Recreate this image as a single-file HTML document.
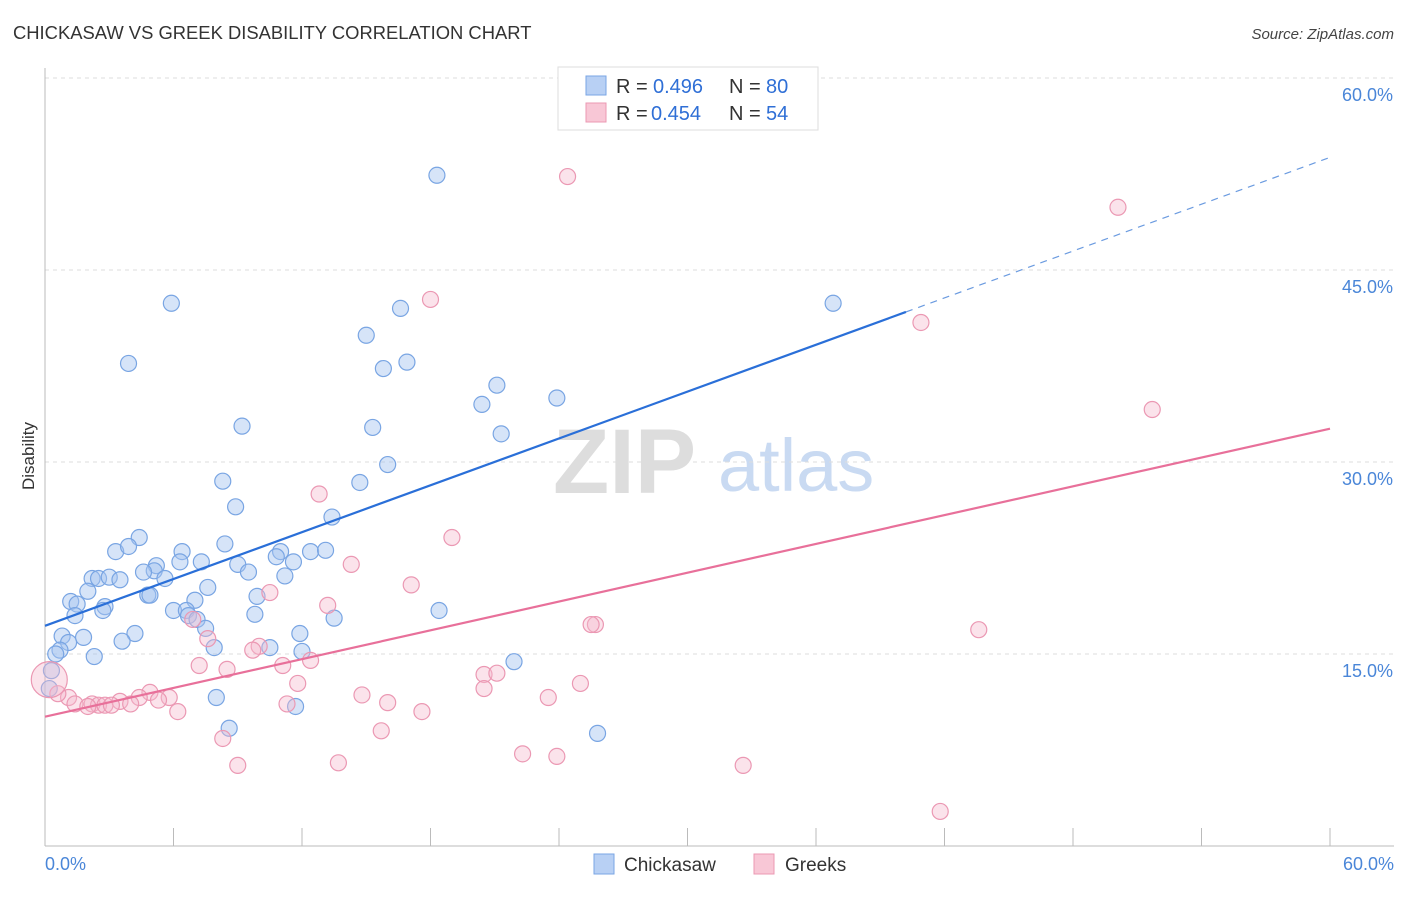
<!DOCTYPE html>
<html><head><meta charset="utf-8"><style>
body{margin:0;background:#fff;font-family:"Liberation Sans",sans-serif;}
svg text{font-family:"Liberation Sans",sans-serif;}
</style></head><body>
<svg id="chart" width="1406" height="892" viewBox="0 0 1406 892" xmlns="http://www.w3.org/2000/svg">
<text x="13" y="39" font-size="18.4" fill="#333">CHICKASAW VS GREEK DISABILITY CORRELATION CHART</text>
<text x="1394" y="39" font-size="15" fill="#444" text-anchor="end" font-style="italic">Source: ZipAtlas.com</text>
<g>
<text x="553" y="493" font-size="92" fill="#ddd" font-family="Liberation Serif" font-weight="bold">ZIP</text>
<text x="718" y="491" font-size="74" fill="#c9daf2">atlas</text>
</g>
<g id="grid"></g>
<g id="axes"></g>
<g id="pts"></g>
<g id="lines"></g>
<text transform="translate(34,456) rotate(-90)" font-size="17" fill="#333" text-anchor="middle">Disability</text>
<g>
<rect x="558" y="67" width="260" height="63" fill="#fff" stroke="#ddd"/>
<rect x="586" y="76" width="20" height="19" fill="#b8d0f4" stroke="#7aa6e4"/>
<rect x="586" y="103" width="20" height="19" fill="#f8c7d6" stroke="#eb98b3"/>
<text x="616" y="93" font-size="20" fill="#333">R =</text>
<text x="653" y="93" font-size="20" fill="#2f6fd6">0.496</text>
<text x="729" y="93" font-size="20" fill="#333">N =</text>
<text x="766" y="93" font-size="20" fill="#2f6fd6">80</text>
<text x="616" y="120" font-size="20" fill="#333">R =</text>
<text x="651" y="120" font-size="20" fill="#2f6fd6">0.454</text>
<text x="729" y="120" font-size="20" fill="#333">N =</text>
<text x="766" y="120" font-size="20" fill="#2f6fd6">54</text>
</g>
<g>
<rect x="594" y="854" width="20" height="20" fill="#b8d0f4" stroke="#7aa6e4"/>
<text x="624" y="871" font-size="19" fill="#333">Chickasaw</text>
<rect x="754" y="854" width="20" height="20" fill="#f8c7d6" stroke="#eb98b3"/>
<text x="785" y="871" font-size="19" fill="#333">Greeks</text>
</g>
</svg>
<script>
const yTicks=[15,30,45,60];
const yTickLabels=["15.0%","30.0%","45.0%","60.0%"];
const xTickLabels=["0.0%","60.0%"];
const chickasaw=[[18.3,52.4],[5.9,42.4],[36.8,42.4],[15.0,39.9],[16.6,42.0],[3.9,37.7],[16.9,37.8],[15.8,37.3],[21.1,36.0],[20.4,34.5],[23.9,35.0],[9.2,32.8],[15.3,32.7],[21.3,32.2],[16.0,29.8],[8.3,28.5],[14.7,28.4],[8.9,26.5],[13.4,25.7],[4.4,24.1],[3.3,23.0],[3.9,23.4],[8.4,23.6],[6.4,23.0],[11.0,23.0],[12.4,23.0],[13.1,23.1],[10.8,22.6],[11.6,22.2],[7.3,22.2],[6.3,22.2],[9.0,22.0],[9.5,21.4],[5.2,21.9],[5.1,21.5],[4.6,21.4],[11.2,21.1],[5.6,20.9],[2.2,20.9],[2.5,20.9],[3.0,21.0],[3.5,20.8],[2.0,19.9],[7.6,20.2],[4.8,19.6],[4.9,19.6],[9.9,19.5],[1.2,19.1],[1.5,18.9],[7.0,19.2],[2.8,18.7],[2.7,18.4],[6.0,18.4],[6.6,18.4],[9.8,18.1],[1.4,18.0],[6.7,18.0],[7.1,17.7],[13.5,17.8],[18.4,18.4],[7.5,17.0],[4.2,16.6],[0.8,16.4],[1.8,16.3],[1.1,15.9],[3.6,16.0],[11.9,16.6],[7.9,15.5],[10.5,15.5],[0.7,15.3],[0.5,15.0],[12.0,15.2],[2.3,14.8],[21.9,14.4],[0.3,13.7],[0.2,12.3],[8.0,11.6],[11.7,10.9],[8.6,9.2],[25.8,8.8]];
const greeks=[[24.4,52.3],[50.1,49.9],[18.0,42.7],[40.9,40.9],[51.7,34.1],[12.8,27.5],[19.0,24.1],[14.3,22.0],[17.1,20.4],[10.5,19.8],[13.2,18.8],[25.7,17.3],[25.5,17.3],[6.9,17.7],[7.6,16.2],[43.6,16.9],[10.0,15.6],[9.7,15.3],[12.4,14.5],[11.1,14.1],[7.2,14.1],[8.5,13.8],[20.5,13.4],[21.1,13.5],[25.0,12.7],[11.8,12.7],[20.5,12.3],[4.9,12.0],[14.8,11.8],[5.8,11.6],[4.4,11.6],[5.3,11.4],[1.1,11.6],[0.6,11.9],[1.4,11.1],[2.2,11.1],[2.5,11.0],[2.8,11.0],[3.5,11.3],[2.0,10.9],[4.0,11.1],[3.1,11.0],[23.5,11.6],[16.0,11.2],[11.3,11.1],[6.2,10.5],[17.6,10.5],[15.7,9.0],[8.3,8.4],[22.3,7.2],[23.9,7.0],[9.0,6.3],[13.7,6.5],[32.6,6.3],[41.8,2.7]];
const greeksBig=[[0.2,13.0]];
const blueTrend=[17.2,0.61,40.2];
const pinkTrend=[10.1,0.375];
const NS="http://www.w3.org/2000/svg";
const X=v=>45+v*(1285/60), Y=v=>846-v*12.8;
function mk(t,a,p){const e=document.createElementNS(NS,t);for(const k in a)e.setAttribute(k,a[k]);p.appendChild(e);return e;}
const grid=document.getElementById('grid'),axes=document.getElementById('axes'),pts=document.getElementById('pts'),lines=document.getElementById('lines');
yTicks.forEach((t,i)=>{
 const l=mk('line',{x1:45,x2:1394,y1:Y(t),y2:Y(t),stroke:'#ddd','stroke-dasharray':'4,4'},grid);
 
 
 const tx=mk('text',{x:1393,y:Y(t)+23,'font-size':18,fill:'#4a86d8','text-anchor':'end'},axes);
 tx.textContent=yTickLabels[i];
 
 
});
mk('line',{x1:45,x2:45,y1:68,y2:846,stroke:'#bbb'},axes);
mk('line',{x1:45,x2:1394,y1:846,y2:846,stroke:'#bbb'},axes);
for(let i=0;i<=10;i++){mk('line',{x1:X(i*6),x2:X(i*6),y1:828,y2:846,stroke:'#bbb'},axes);}
[[0,'start',45],[1,'end',1394]].forEach(([i,a,x])=>{const t=mk('text',{x:x,y:870,'font-size':18,fill:'#4a86d8','text-anchor':a},axes);t.textContent=xTickLabels[i];});
chickasaw.forEach(d=>{const c=mk('circle',{cx:X(d[0]),cy:Y(d[1]),r:8,fill:'rgba(164,196,240,0.45)',stroke:'#79a5e3','stroke-width':1.2},pts);
 
 });
greeks.forEach(d=>{const c=mk('circle',{cx:X(d[0]),cy:Y(d[1]),r:8,fill:'rgba(246,184,204,0.4)',stroke:'#eb98b3','stroke-width':1.2},pts);
 
 });
greeksBig.forEach(d=>{const c=mk('circle',{cx:X(d[0]),cy:Y(d[1]),r:18,fill:'rgba(246,184,204,0.4)',stroke:'#eb98b3','stroke-width':1.2},pts);
 
 });
const bf=x=>blueTrend[0]+blueTrend[1]*x, pf=x=>pinkTrend[0]+pinkTrend[1]*x;
let l1=mk('line',{x1:X(0),y1:Y(bf(0)),x2:X(blueTrend[2]),y2:Y(bf(blueTrend[2])),stroke:'#2a6fd8','stroke-width':2.2},lines);


let l2=mk('line',{x1:X(blueTrend[2]),y1:Y(bf(blueTrend[2])),x2:X(60),y2:Y(bf(60)),stroke:'#6b9be0','stroke-width':1.2,'stroke-dasharray':'7,6'},lines);


let l3=mk('line',{x1:X(0),y1:Y(pf(0)),x2:X(60),y2:Y(pf(60)),stroke:'#e8709a','stroke-width':2.2},lines);


</script>
</body></html>
